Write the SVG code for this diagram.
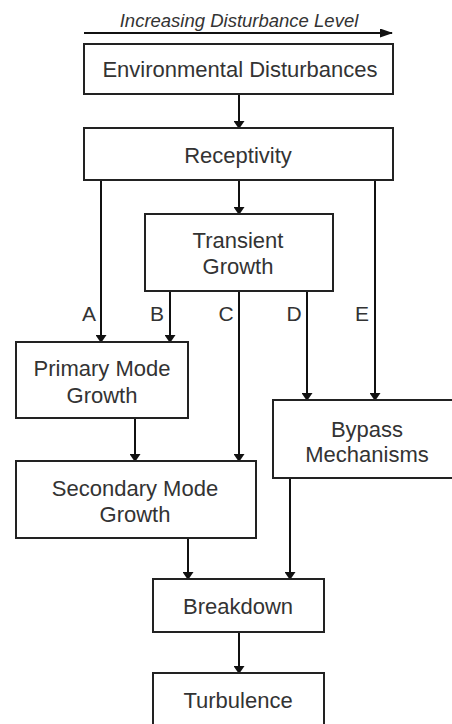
<svg xmlns="http://www.w3.org/2000/svg" width="452" height="724" viewBox="0 0 452 724">
<style>
.box{fill:#fff;stroke:#222;stroke-width:2}
.t{font-family:"Liberation Sans",Arial,sans-serif;font-size:22px;fill:#333;text-anchor:middle}
.lbl{font-family:"Liberation Sans",Arial,sans-serif;font-size:21px;fill:#333;text-anchor:middle}
.c{stroke:#111;stroke-width:2;fill:none;marker-end:url(#ah)}
</style>
<defs>
<marker id="ah" markerWidth="8" markerHeight="11" refX="7" refY="5.5" orient="auto" markerUnits="userSpaceOnUse">
<path d="M0,0 L8,5.5 L0,11 z" fill="#111"/>
</marker>
<marker id="ah2" markerWidth="13" markerHeight="9" refX="12" refY="4.5" orient="auto" markerUnits="userSpaceOnUse">
<path d="M0,0 L13,4.5 L0,9 z" fill="#111"/>
</marker>
</defs>
<g id="level">
<text x="239" y="27" style="font-family:'Liberation Sans',Arial,sans-serif;font-size:18.5px;font-style:italic;fill:#333;text-anchor:middle">Increasing Disturbance Level</text>
<line x1="84" y1="33" x2="392" y2="33" stroke="#111" stroke-width="2" marker-end="url(#ah2)"/>
</g>
<g id="connectors">
<line class="c" x1="239" y1="94" x2="239" y2="128"/>
<line class="c" x1="239" y1="180" x2="239" y2="214"/>
<line class="c" x1="101" y1="180" x2="101" y2="342"/>
<line class="c" x1="170" y1="291" x2="170" y2="342"/>
<line class="c" x1="239" y1="291" x2="239" y2="461"/>
<line class="c" x1="307" y1="291" x2="307" y2="400"/>
<line class="c" x1="375" y1="180" x2="375" y2="400"/>
<line class="c" x1="135" y1="418" x2="135" y2="461"/>
<line class="c" x1="188" y1="538" x2="188" y2="579"/>
<line class="c" x1="290" y1="478" x2="290" y2="579"/>
<line class="c" x1="239" y1="632" x2="239" y2="673"/>
<text class="lbl" x="89" y="321">A</text>
<text class="lbl" x="157" y="321">B</text>
<text class="lbl" x="226" y="321">C</text>
<text class="lbl" x="294" y="321">D</text>
<text class="lbl" x="362" y="321">E</text>
</g>
<g id="env">
<rect class="box" x="84" y="44" width="309" height="50"/>
<text class="t" x="240" y="77">Environmental Disturbances</text>
</g>
<g id="receptivity">
<rect class="box" x="84" y="128" width="309" height="52"/>
<text class="t" x="238" y="163">Receptivity</text>
</g>
<g id="transient">
<rect class="box" x="145" y="214" width="188" height="77"/>
<text class="t" x="238" y="248">Transient</text>
<text class="t" x="238" y="274">Growth</text>
</g>
<g id="primary">
<rect class="box" x="16" y="342" width="172" height="76"/>
<text class="t" x="102" y="376">Primary Mode</text>
<text class="t" x="102" y="403">Growth</text>
</g>
<g id="secondary">
<rect class="box" x="16" y="461" width="240" height="77"/>
<text class="t" x="135" y="496">Secondary Mode</text>
<text class="t" x="135" y="522">Growth</text>
</g>
<g id="bypass">
<rect class="box" x="273" y="400" width="190" height="78"/>
<text class="t" x="367" y="437">Bypass</text>
<text class="t" x="367" y="462">Mechanisms</text>
</g>
<g id="breakdown">
<rect class="box" x="153" y="579" width="171" height="53"/>
<text class="t" x="238" y="614">Breakdown</text>
</g>
<g id="turbulence">
<rect class="box" x="153" y="673" width="171" height="60"/>
<text class="t" x="238" y="708">Turbulence</text>
</g>
</svg>
